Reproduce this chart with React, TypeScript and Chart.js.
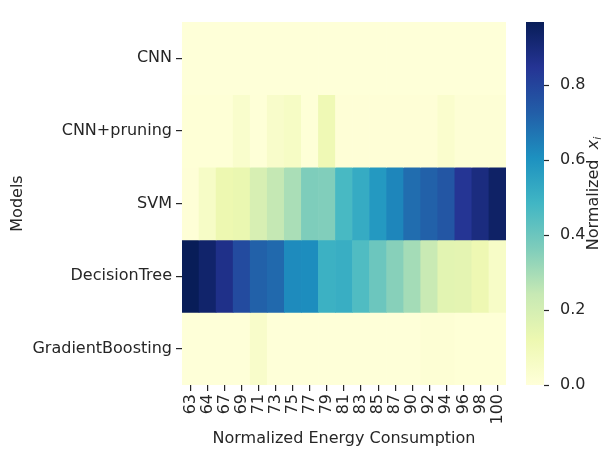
import React, { useEffect, useRef } from "react";
import { Chart, registerables } from "chart.js";
Chart.register(...registerables);

const energyLabels = ["63","64","67","69","71","73","75","77","79","81","83","85","87","90","92","94","96","98","100"];
const models = ["CNN", "CNN+pruning", "SVM", "DecisionTree", "GradientBoosting"];

const cnnValues = [0.004,0.004,0.004,0.004,0.004,0.004,0.004,0.004,0.004,0.004,0.004,0.004,0.004,0.004,0.004,0.004,0.004,0.004,0.004];
const cnnPruningValues = [0.008,0.008,0.008,0.04,0.006,0.045,0.06,0.006,0.11,0.01,0.01,0.01,0.01,0.01,0.01,0.035,0.012,0.012,0.012];
const svmValues = [0.01,0.058,0.12,0.13,0.19,0.245,0.29,0.365,0.36,0.47,0.52,0.58,0.63,0.69,0.72,0.75,0.845,0.89,0.94];
const decisionTreeValues = [0.968,0.93,0.87,0.78,0.72,0.70,0.62,0.615,0.50,0.51,0.455,0.40,0.35,0.30,0.235,0.155,0.15,0.115,0.055];
const gradientBoostingValues = [0.004,0.004,0.004,0.004,0.045,0.004,0.004,0.004,0.004,0.004,0.004,0.004,0.004,0.004,0.015,0.015,0.008,0.008,0.008];

const rowValues = [cnnValues, cnnPruningValues, svmValues, decisionTreeValues, gradientBoostingValues];

const colorbarTicks = [0, 0.2, 0.4, 0.6, 0.8];
const vMin = 0;
const vMax = 0.968;

const YLGNBU = ["#ffffd9","#edf8b1","#c7e9b4","#7fcdbb","#41b6c4","#1d91c0","#225ea8","#253494","#081d58"];

function hexToRgb(h: string) {
  return [parseInt(h.slice(1, 3), 16), parseInt(h.slice(3, 5), 16), parseInt(h.slice(5, 7), 16)];
}

function colorFor(v: number) {
  let t = (v - vMin) / (vMax - vMin);
  t = Math.max(0, Math.min(1, t));
  const pos = t * (YLGNBU.length - 1);
  const i = Math.min(Math.floor(pos), YLGNBU.length - 2);
  const f = pos - i;
  const a = hexToRgb(YLGNBU[i]);
  const b = hexToRgb(YLGNBU[i + 1]);
  const c = a.map((x, k) => Math.round(x + (b[k] - x) * f));
  return `rgb(${c[0]},${c[1]},${c[2]})`;
}

const TEXT = "#262626";
const FONT = "'DejaVu Sans', sans-serif";
const FS = 16;

const colorbarPlugin = {
  id: "colorbar",
  afterDraw(chart: any) {
    const s = chart.scales.cb;
    const ctx = chart.ctx;
    const x0 = s.left + 20;
    const w = 18;
    const top = s.getPixelForValue(vMax);
    const bottom = s.getPixelForValue(vMin);
    ctx.save();
    const grad = ctx.createLinearGradient(0, bottom, 0, top);
    YLGNBU.forEach((c, i) => grad.addColorStop(i / (YLGNBU.length - 1), c));
    ctx.fillStyle = grad;
    ctx.fillRect(x0, top, w, bottom - top);
    ctx.strokeStyle = TEXT;
    ctx.lineWidth = 1.2;
    colorbarTicks.forEach((v) => {
      const y = Math.round(s.getPixelForValue(v)) + 0.5;
      ctx.beginPath();
      ctx.moveTo(x0 + w, y);
      ctx.lineTo(x0 + w + 5, y);
      ctx.stroke();
    });
    // title
    ctx.translate(s.left + 88, (top + bottom) / 2 - 10);
    ctx.rotate(-Math.PI / 2);
    ctx.fillStyle = TEXT;
    ctx.textBaseline = "middle";
    const t1 = "Normalized  ";
    ctx.font = `${FS}px ${FONT}`;
    const w1 = ctx.measureText(t1).width;
    ctx.font = `italic ${FS}px ${FONT}`;
    const w2 = ctx.measureText("x").width;
    ctx.font = `italic 11px ${FONT}`;
    const w3 = ctx.measureText("i").width;
    const total = w1 + w2 + w3;
    let x = -total / 2;
    ctx.textAlign = "left";
    ctx.font = `${FS}px ${FONT}`;
    ctx.fillText(t1, x, 0);
    x += w1;
    ctx.font = `italic ${FS}px ${FONT}`;
    ctx.fillText("x", x, 0);
    x += w2;
    ctx.font = `italic 11px ${FONT}`;
    ctx.fillText("i", x, 4);
    ctx.restore();
  },
};

export default function App() {
  const ref = useRef<HTMLCanvasElement | null>(null);
  useEffect(() => {
    document.body.style.margin = "0";
    const canvas = ref.current;
    if (!canvas) return;
    const datasets = models.map((name, r) => ({
      label: name,
      data: energyLabels.map(() => [r, r + 1]),
      backgroundColor: rowValues[r].map(colorFor),
      borderWidth: 0,
      barPercentage: 1,
      categoryPercentage: 1,
      grouped: false,
      yAxisID: "y",
    }));
    const chart = new Chart(canvas, {
      type: "bar",
      data: { labels: energyLabels, datasets },
      options: {
        responsive: false,
        animation: false,
        layout: { padding: { top: 22, left: 0, right: 0, bottom: 0 } },
        plugins: { legend: { display: false }, tooltip: { enabled: false } },
        scales: {
          x: {
            type: "category",
            position: "bottom",
            offset: true,
            border: { display: false },
            grid: { offset: false, drawOnChartArea: false, drawTicks: true, tickLength: 6, color: TEXT, lineWidth: 1.2 },
            ticks: { color: TEXT, font: { family: FONT, size: FS }, minRotation: 90, maxRotation: 90, padding: 3, autoSkip: false },
            title: { display: true, text: "Normalized Energy Consumption", color: TEXT, font: { family: FONT, size: FS }, padding: { top: 0, bottom: 15.4 } },
            afterFit: (s: any) => { s.height = 79; s.paddingLeft = 0; s.paddingRight = 0; },
          },
          y: {
            type: "linear",
            position: "left",
            min: 0,
            max: models.length,
            reverse: true,
            border: { display: false },
            grid: { drawOnChartArea: false, drawTicks: true, tickLength: 6, color: TEXT, lineWidth: 1.2 },
            afterBuildTicks: (s: any) => { s.ticks = models.map((_, i) => ({ value: i + 0.5 })); },
            ticks: { color: TEXT, font: { family: FONT, size: FS }, padding: 4, callback: (v: any) => models[Math.floor(Number(v))] },
            title: { display: true, text: "Models", color: TEXT, font: { family: FONT, size: FS }, padding: { top: 7.9, bottom: 0 } },
            afterFit: (s: any) => { s.width = 182; s.paddingTop = 0; s.paddingBottom = 0; },
          },
          cb: {
            type: "linear",
            position: "right",
            min: vMin,
            max: vMax,
            border: { display: false },
            grid: { display: false, drawOnChartArea: false },
            afterBuildTicks: (s: any) => { s.ticks = colorbarTicks.map((v) => ({ value: v })); },
            ticks: { color: TEXT, font: { family: FONT, size: FS }, padding: 46, callback: (v: any) => Number(v).toFixed(1) },
            afterFit: (s: any) => { s.width = 99; s.paddingTop = 0; s.paddingBottom = 0; },
          },
        },
      },
      plugins: [colorbarPlugin],
    } as any);
    return () => chart.destroy();
  }, []);
  return (
    <div style={{ width: 605, height: 464 }}>
      <canvas ref={ref} width={605} height={464} />
    </div>
  );
}
